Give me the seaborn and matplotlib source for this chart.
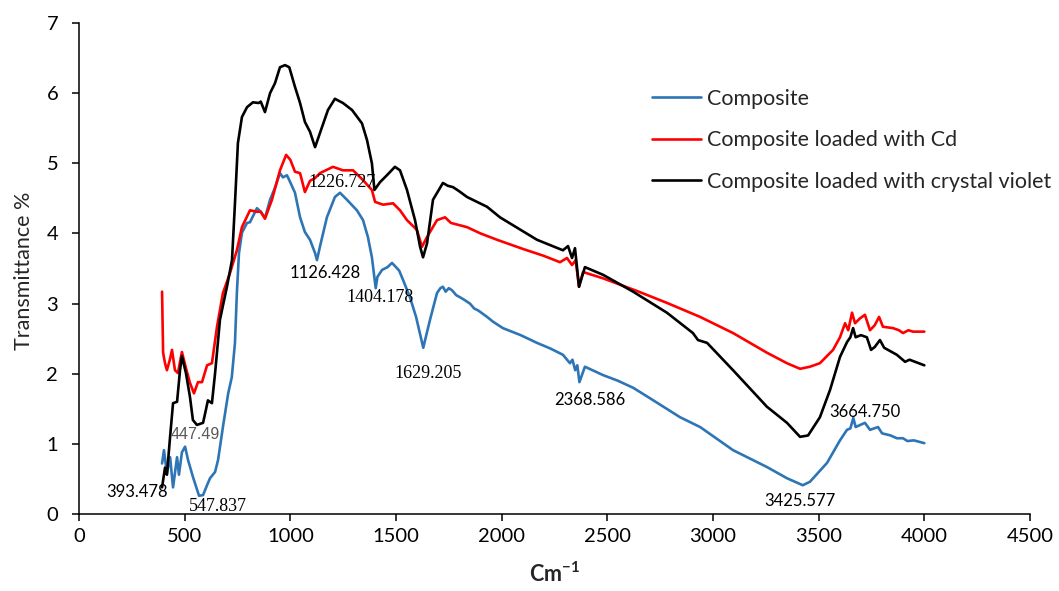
import matplotlib
matplotlib.use("Agg")
import matplotlib.pyplot as plt
import seaborn as sns
import pandas as pd

# FTIR spectra: wavenumber (cm-1) and transmittance (%)
composite_x = [393, 402, 416, 431, 445, 464, 473, 487, 502, 516, 539, 568, 587, 610, 620, 644,
               658, 681, 706, 723, 738, 747, 757, 771, 795, 809, 842, 860, 880, 904, 927, 951,
               965, 984, 995, 1022, 1046, 1069, 1093, 1117, 1126, 1140, 1173, 1211, 1235, 1268,
               1315, 1344, 1367, 1386, 1404, 1412, 1434, 1460, 1481, 1500, 1515, 1533, 1566, 1595,
               1629, 1661, 1694, 1710, 1722, 1735, 1750, 1765, 1785, 1803, 1825, 1850, 1870, 1890,
               1931, 1960, 2006, 2090, 2167, 2230, 2290, 2323, 2335, 2348, 2358, 2368, 2394, 2480,
               2550, 2622, 2702, 2844, 2939, 3095, 3255, 3350, 3425, 3459, 3540, 3601, 3634, 3650,
               3664, 3675, 3719, 3743, 3781, 3800, 3840, 3870, 3899, 3920, 3950, 4000]
composite_y = [0.72, 0.91, 0.58, 0.81, 0.38, 0.81, 0.56, 0.88, 0.96, 0.77, 0.53, 0.26, 0.27, 0.44,
               0.51, 0.60, 0.77, 1.24, 1.72, 1.95, 2.44, 3.15, 3.72, 4.01, 4.15, 4.16, 4.36, 4.31,
               4.22, 4.48, 4.65, 4.86, 4.80, 4.83, 4.76, 4.58, 4.23, 4.02, 3.91, 3.72, 3.62, 3.81,
               4.23, 4.52, 4.58, 4.48, 4.33, 4.19, 3.95, 3.66, 3.22, 3.38, 3.48, 3.52, 3.58, 3.52,
               3.47, 3.34, 3.09, 2.81, 2.37, 2.77, 3.15, 3.22, 3.24, 3.17, 3.22, 3.19, 3.12, 3.09,
               3.05, 3.00, 2.93, 2.90, 2.81, 2.74, 2.65, 2.55, 2.44, 2.36, 2.27, 2.15, 2.20, 2.05,
               2.12, 1.88, 2.10, 1.98, 1.90, 1.80, 1.65, 1.38, 1.24, 0.91, 0.67, 0.51, 0.41, 0.46,
               0.73, 1.05, 1.20, 1.22, 1.37, 1.24, 1.30, 1.20, 1.24, 1.15, 1.12, 1.08, 1.08, 1.04,
               1.05, 1.01]

cd_x = [393, 398, 407, 416, 430, 440, 454, 468, 487, 506, 525, 544, 563, 582, 606, 629, 653, 681,
        715, 747, 771, 809, 842, 860, 880, 913, 951, 980, 1000, 1022, 1046, 1069, 1093, 1117, 1140,
        1202, 1249, 1297, 1344, 1386, 1401, 1439, 1486, 1519, 1552, 1599, 1623, 1647, 1694, 1732,
        1760, 1836, 1900, 1978, 2100, 2200, 2276, 2309, 2333, 2350, 2366, 2385, 2480, 2640, 2782,
        2939, 3095, 3255, 3350, 3412, 3459, 3506, 3568, 3601, 3625, 3640, 3658, 3672, 3696, 3719,
        3743, 3765, 3786, 3804, 3852, 3880, 3899, 3925, 3946, 4000]
cd_y = [3.17, 2.30, 2.15, 2.05, 2.20, 2.34, 2.05, 2.01, 2.31, 2.08, 1.87, 1.72, 1.88, 1.88, 2.12,
        2.15, 2.67, 3.15, 3.44, 3.76, 4.09, 4.33, 4.31, 4.31, 4.21, 4.48, 4.90, 5.12, 5.05, 4.88,
        4.86, 4.59, 4.75, 4.79, 4.86, 4.95, 4.90, 4.90, 4.76, 4.62, 4.45, 4.41, 4.43, 4.33, 4.19,
        4.05, 3.81, 3.95, 4.19, 4.23, 4.15, 4.09, 4.00, 3.91, 3.78, 3.68, 3.59, 3.65, 3.55, 3.62,
        3.24, 3.45, 3.36, 3.18, 3.01, 2.81, 2.58, 2.30, 2.15, 2.07, 2.10, 2.15, 2.34, 2.52, 2.72,
        2.62, 2.87, 2.72, 2.79, 2.84, 2.62, 2.69, 2.81, 2.67, 2.65, 2.62, 2.58, 2.62, 2.60, 2.60]

cv_x = [393, 407, 416, 431, 445, 464, 478, 487, 506, 525, 539, 558, 587, 598, 610, 629, 644, 667,
        700, 724, 738, 752, 771, 795, 823, 850, 860, 880, 904, 927, 951, 975, 995, 1022, 1046,
        1069, 1093, 1117, 1140, 1178, 1211, 1249, 1292, 1339, 1363, 1386, 1398, 1424, 1457, 1495,
        1519, 1552, 1590, 1614, 1628, 1647, 1675, 1722, 1745, 1770, 1800, 1836, 1931, 1992, 2167,
        2290, 2314, 2333, 2347, 2366, 2394, 2480, 2622, 2782, 2905, 2929, 2972, 3095, 3255, 3350,
        3412, 3450, 3506, 3554, 3601, 3634, 3650, 3663, 3675, 3700, 3728, 3748, 3765, 3790, 3810,
        3870, 3909, 3930, 3956, 4000]
cv_y = [0.38, 0.66, 0.56, 1.10, 1.58, 1.60, 2.05, 2.25, 2.01, 1.67, 1.34, 1.27, 1.30, 1.45, 1.62,
        1.58, 2.01, 2.77, 3.24, 3.62, 4.43, 5.29, 5.66, 5.80, 5.87, 5.86, 5.88, 5.73, 6.00, 6.14,
        6.37, 6.40, 6.37, 6.09, 5.86, 5.59, 5.45, 5.23, 5.43, 5.76, 5.92, 5.86, 5.76, 5.57, 5.33,
        5.00, 4.62, 4.73, 4.83, 4.95, 4.90, 4.62, 4.19, 3.81, 3.66, 3.86, 4.48, 4.72, 4.68, 4.66,
        4.60, 4.52, 4.38, 4.23, 3.91, 3.76, 3.82, 3.65, 3.79, 3.24, 3.52, 3.41, 3.17, 2.87, 2.58,
        2.48, 2.44, 2.05, 1.53, 1.30, 1.10, 1.12, 1.38, 1.77, 2.24, 2.45, 2.52, 2.65, 2.52, 2.55,
        2.52, 2.34, 2.38, 2.48, 2.37, 2.27, 2.17, 2.20, 2.17, 2.12]

series_names = ["Composite", "Composite loaded with Cd", "Composite loaded with crystal violet"]
series_colors = ["#2E75B6", "#FF0000", "#000000"]

# peak labels: (text, x, y, font family, colour)
peak_labels = [
    ("393.478", 274, 0.31, "sans", "#000000"),
    ("447.49", 549, 1.13, "arial", "#595959"),
    ("547.837", 658, 0.10, "serif", "#000000"),
    ("1226.727", 1245, 4.72, "serif", "#000000"),
    ("1126.428", 1164, 3.44, "sans", "#000000"),
    ("1404.178", 1424, 3.08, "serif", "#000000"),
    ("1629.205", 1651, 2.01, "serif", "#000000"),
    ("2368.586", 2418, 1.63, "sans", "#000000"),
    ("3425.577", 3412, 0.19, "sans", "#000000"),
    ("3664.750", 3719, 1.45, "sans", "#000000"),
]

sns.set_style("ticks")
plt.rcParams["font.family"] = ["Lato", "DejaVu Sans"]
plt.rcParams["mathtext.fontset"] = "custom"
plt.rcParams["mathtext.rm"] = "Lato"
plt.rcParams["mathtext.bf"] = "Lato:bold"

fig = plt.figure(figsize=(10.59, 5.91), dpi=100)
ax = fig.add_axes([0.0746, 0.1303, 0.8980, 0.8307])

frames = []
for name, xs, ys in zip(series_names, [composite_x, cd_x, cv_x], [composite_y, cd_y, cv_y]):
    frames.append(pd.DataFrame({"wavenumber": xs, "transmittance": ys, "sample": name}))
df = pd.concat(frames, ignore_index=True)

sns.lineplot(data=df, x="wavenumber", y="transmittance", hue="sample",
             hue_order=series_names, palette=series_colors, sort=False,
             estimator=None, linewidth=1.9, ax=ax, legend=True)

ax.set_xlim(0, 4500)
ax.set_ylim(0, 7)
ax.set_xticks(range(0, 4501, 500))
ax.set_yticks(range(0, 8))
ax.tick_params(axis="both", labelsize=14.5, length=5, width=1.1, colors="#000000")
ax.tick_params(axis="y", pad=10)
ax.tick_params(axis="x", pad=5)
for side in ["left", "bottom"]:
    ax.spines[side].set_linewidth(1.1)
    ax.spines[side].set_color("#000000")
sns.despine(ax=ax)

ax.set_xlabel(r"$\mathbf{Cm^{-1}}$", fontsize=15.5)
ax.set_ylabel("Transmittance %", fontsize=15.5)
ax.xaxis.set_label_coords(0.5, -0.098)
ax.yaxis.set_label_coords(-0.047, 0.495)

fam = {"sans": ["Lato", "DejaVu Sans"], "serif": ["Liberation Serif", "DejaVu Serif"],
       "arial": ["Liberation Sans", "DejaVu Sans"]}
size = {"sans": 12, "serif": 13, "arial": 11.5}
for txt, x, y, f, c in peak_labels:
    ax.text(x, y, txt, ha="center", va="center", fontsize=size[f], color=c,
            family=fam[f], clip_on=False)

leg = ax.legend(loc="upper left", bbox_to_anchor=(0.582, 0.906), frameon=False,
                fontsize=15.5, handlelength=2.3, handletextpad=0.28, labelspacing=1.0,
                title=None)
for line in leg.get_lines():
    line.set_linewidth(1.9)

fig.savefig("out.png", dpi=100)
